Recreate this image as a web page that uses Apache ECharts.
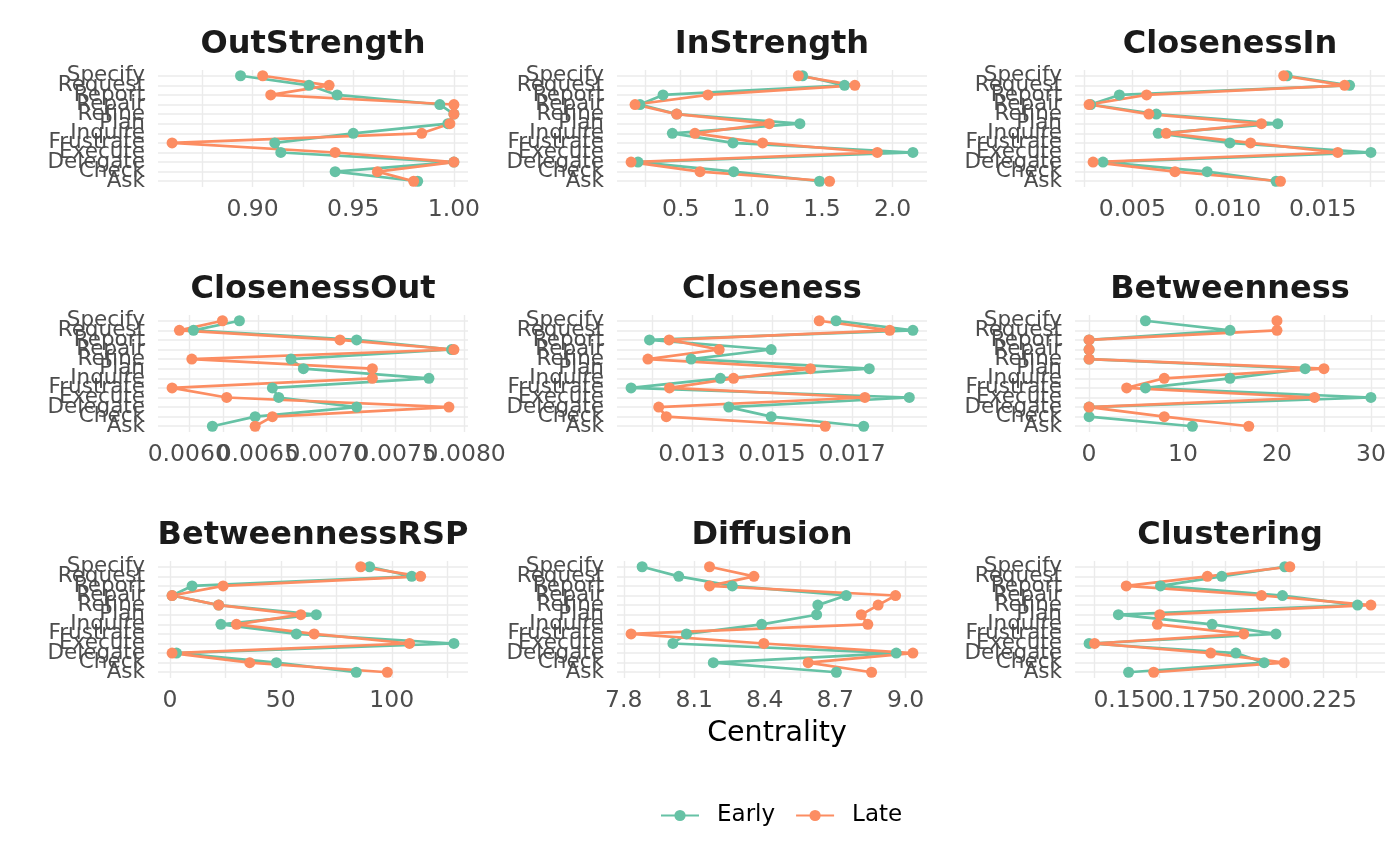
<!DOCTYPE html>
<html style="height: 100%">
<head>
    <title>Centrality</title>
    <meta charset="utf-8">
</head>
<body style="height: 100%; margin: 0; background: #ffffff">
<div id="container" style="height: 866px; width: 1400px"></div>
<script src="https://cdn.jsdelivr.net/npm/echarts@6/dist/echarts.min.js"></script>
<script type="text/javascript">
    // categories, bottom to top
    var categories = ['Ask', 'Check', 'Delegate', 'Execute', 'Frustrate', 'Inquire', 'Plan', 'Refine', 'Repair', 'Report', 'Request', 'Specify'];

    var outStrengthEarly = [0.982, 0.941, 1.000, 0.914, 0.911, 0.950, 0.997, 1.000, 0.993, 0.942, 0.928, 0.894];
    var outStrengthLate = [0.980, 0.962, 1.000, 0.941, 0.860, 0.984, 0.998, 1.000, 1.000, 0.909, 0.938, 0.905];
    var outStrengthTicks = ['0.90', '0.95', '1.00'];

    var inStrengthEarly = [1.483, 0.875, 0.198, 2.144, 0.870, 0.441, 1.344, 0.472, 0.212, 0.375, 1.660, 1.363];
    var inStrengthLate = [1.554, 0.637, 0.149, 1.892, 1.080, 0.601, 1.127, 0.472, 0.177, 0.693, 1.733, 1.333];
    var inStrengthTicks = ['0.5', '1.0', '1.5', '2.0'];

    var closenessInEarly = [0.01255, 0.00893, 0.00346, 0.01753, 0.01012, 0.00636, 0.01264, 0.00626, 0.00281, 0.00432, 0.01641, 0.01313];
    var closenessInLate = [0.01278, 0.00724, 0.00294, 0.01579, 0.01121, 0.00678, 0.01178, 0.00587, 0.00273, 0.00575, 0.01615, 0.01295];
    var closenessInTicks = ['0.005', '0.010', '0.015'];

    var closenessOutEarly = [0.006171, 0.006481, 0.007217, 0.006652, 0.006606, 0.007741, 0.006831, 0.006741, 0.007905, 0.007217, 0.006034, 0.006367];
    var closenessOutLate = [0.006481, 0.006606, 0.007886, 0.006275, 0.005879, 0.007331, 0.007331, 0.006022, 0.007922, 0.007096, 0.005932, 0.006244];
    var closenessOutTicks = ['0.0060', '0.0065', '0.0070', '0.0075', '0.0080'];

    var closenessEarly = [0.01729, 0.01498, 0.01392, 0.01843, 0.01148, 0.01371, 0.01743, 0.01298, 0.01498, 0.01194, 0.01852, 0.01660];
    var closenessLate = [0.01633, 0.01236, 0.01217, 0.01732, 0.01244, 0.01404, 0.01596, 0.01190, 0.01368, 0.01243, 0.01794, 0.01618];
    var closenessTicks = ['0.013', '0.015', '0.017'];

    var betweennessEarly = [11, 0, 0, 30, 6, 15, 23, 0, 0, 0, 15, 6];
    var betweennessLate = [17, 8, 0, 24, 4, 8, 25, 0, 0, 0, 20, 20];
    var betweennessTicks = ['0', '10', '20', '30'];

    var betweennessRSPEarly = [84, 48, 3, 128, 57, 23, 66, 22, 1, 10, 109, 90];
    var betweennessRSPLate = [98, 36, 1, 108, 65, 30, 59, 22, 1, 24, 113, 86];
    var betweennessRSPTicks = ['0', '50', '100'];

    var diffusionEarly = [8.705, 8.181, 8.960, 8.009, 8.067, 8.387, 8.621, 8.626, 8.747, 8.262, 8.034, 7.878];
    var diffusionLate = [8.855, 8.585, 9.031, 8.396, 7.831, 8.839, 8.811, 8.883, 8.957, 8.165, 8.354, 8.165];
    var diffusionTicks = ['7.8', '8.1', '8.4', '8.7', '9.0'];

    var clusteringEarly = [0.1506, 0.2024, 0.1916, 0.1355, 0.2069, 0.1825, 0.1467, 0.2381, 0.2094, 0.1628, 0.1862, 0.2103];
    var clusteringLate = [0.1602, 0.2101, 0.1820, 0.1376, 0.1946, 0.1616, 0.1625, 0.2432, 0.2014, 0.1497, 0.1807, 0.2122];
    var clusteringTicks = ['0.150', '0.175', '0.200', '0.225'];

    var panels = [
        {name: 'OutStrength', early: outStrengthEarly, late: outStrengthLate, ticks: outStrengthTicks},
        {name: 'InStrength', early: inStrengthEarly, late: inStrengthLate, ticks: inStrengthTicks},
        {name: 'ClosenessIn', early: closenessInEarly, late: closenessInLate, ticks: closenessInTicks},
        {name: 'ClosenessOut', early: closenessOutEarly, late: closenessOutLate, ticks: closenessOutTicks},
        {name: 'Closeness', early: closenessEarly, late: closenessLate, ticks: closenessTicks},
        {name: 'Betweenness', early: betweennessEarly, late: betweennessLate, ticks: betweennessTicks},
        {name: 'BetweennessRSP', early: betweennessRSPEarly, late: betweennessRSPLate, ticks: betweennessRSPTicks},
        {name: 'Diffusion', early: diffusionEarly, late: diffusionLate, ticks: diffusionTicks},
        {name: 'Clustering', early: clusteringEarly, late: clusteringLate, ticks: clusteringTicks}
    ];

    var colLeft = [158, 617, 1075];
    var rowTop = [70, 315, 561];
    var panelW = 310, panelH = 117;
    var earlyColor = '#66C2A5', lateColor = '#FC8D62';
    var gridColor = '#EBEBEB';

    var grids = [], xAxes = [], yAxes = [], titles = [], series = [];

    // y range with the usual 0.6 padding round a discrete scale
    var yMin = -0.6, yMax = categories.length - 0.4;
    var catIdx = categories.map(function (c, i) { return i; });

    panels.forEach(function (p, k) {
        var col = k % 3, row = Math.floor(k / 3);
        var all = p.early.concat(p.late);
        var lo = Math.min.apply(null, all), hi = Math.max.apply(null, all);
        var pad = (hi - lo) * 0.05;
        var xMin = lo - pad, xMax = hi + pad;
        var major = p.ticks.map(parseFloat);
        var step = major[1] - major[0];
        // minor grid lines half way between the labelled ones
        var minor = [major[0] - step / 2];
        major.forEach(function (m) { minor.push(m + step / 2); });
        var lines = major.concat(minor);
        var labelOf = {};
        p.ticks.forEach(function (t) { labelOf[String(parseFloat(t))] = t; });

        grids.push({left: colLeft[col], top: rowTop[row], width: panelW, height: panelH, containLabel: false});

        // blank labels at both ends soak up the min/max overlap check
        xAxes.push({
            type: 'value', gridIndex: k, min: xMin, max: xMax,
            axisLine: {show: false},
            axisTick: {show: false, customValues: lines},
            splitLine: {show: true, lineStyle: {color: gridColor, width: 1.4}},
            axisLabel: {
                customValues: [xMin].concat(major, [xMax]), margin: 11, fontSize: 23.5, color: '#4D4D4D',
                showMinLabel: false, showMaxLabel: false, hideOverlap: false,
                formatter: function (v) { return labelOf[String(v)] !== undefined ? labelOf[String(v)] : ''; }
            }
        });

        yAxes.push({
            type: 'value', gridIndex: k, min: yMin, max: yMax,
            axisLine: {show: false},
            axisTick: {show: false, customValues: catIdx},
            splitLine: {show: true, lineStyle: {color: gridColor, width: 1.6}},
            axisLabel: {
                customValues: [yMin].concat(catIdx, [yMax]),
                margin: 13, fontSize: 21.5, color: '#4D4D4D',
                showMinLabel: false, showMaxLabel: false, hideOverlap: false,
                formatter: function (v) {
                    return Math.round(v) === v ? categories[v] : '';
                }
            }
        });

        titles.push({
            text: p.name, left: colLeft[col] + panelW / 2, top: rowTop[row] - 41, textAlign: 'center',
            padding: 0,
            textStyle: {fontSize: 32, fontWeight: 'bold', color: '#1A1A1A', fontFamily: 'DejaVu Sans'}
        });

        [['Early', p.early, earlyColor], ['Late', p.late, lateColor]].forEach(function (s) {
            series.push({
                name: s[0], type: 'line', xAxisIndex: k, yAxisIndex: k,
                data: s[1].map(function (v, i) { return [v, i]; }),
                symbol: 'circle', symbolSize: 11,
                lineStyle: {color: s[2], width: 2.7},
                itemStyle: {color: s[2], borderWidth: 0},
                emphasis: {disabled: true},
                silent: true
            });
        });
    });

    titles.push({
        text: 'Centrality', left: 772, top: 714, textAlign: 'center',
        textStyle: {fontSize: 28.5, fontWeight: 'normal', color: '#000000', fontFamily: 'DejaVu Sans'}
    });

    var myChart = echarts.init(document.getElementById('container'));
    myChart.setOption({
        animation: false,
        backgroundColor: '#ffffff',
        textStyle: {fontFamily: 'DejaVu Sans'},
        title: titles,
        legend: {
            data: ['Early', 'Late'], left: 655, top: 799,
            itemWidth: 38, itemHeight: 14, itemGap: 20,
            textStyle: {fontSize: 23, color: '#000000', padding: [0, 0, 0, 13]}
        },
        grid: grids,
        xAxis: xAxes,
        yAxis: yAxes,
        series: series
    });
</script>
</body>
</html>
